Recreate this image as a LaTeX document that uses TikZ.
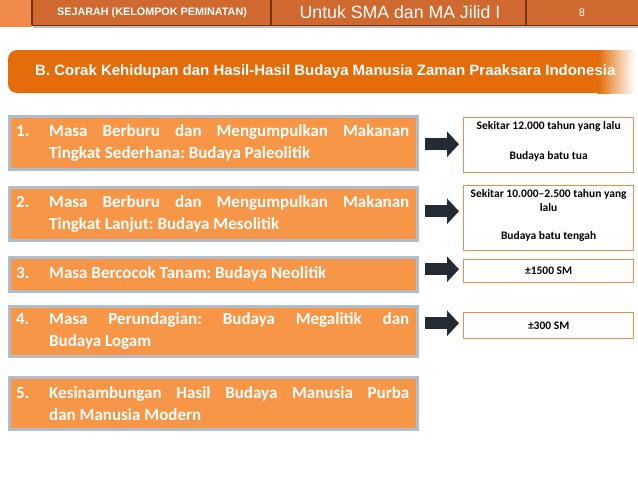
\documentclass[tikz,border=0pt]{standalone}
\usepackage{fontspec}
\newfontfamily\calib{Carlito}
\newfontfamily\arial{Liberation Sans}
\usetikzlibrary{arrows.meta}
\definecolor{hlight}{HTML}{F08A4B}
\definecolor{hdark}{HTML}{D0692F}
\definecolor{hline}{HTML}{6E3410}
\definecolor{tor}{HTML}{E46C0A}
\definecolor{bor}{HTML}{F79646}
\definecolor{bgray}{HTML}{B0BDCB}
\definecolor{arr}{HTML}{262A33}
\definecolor{rbord}{HTML}{EE8B55}
\newcommand{\numl}[1]{\makebox[33pt][l]{#1}}
\newcommand{\fulll}[1]{\makebox[360pt][s]{#1}}
\frenchspacing
\begin{document}
\begin{tikzpicture}[x=1pt,y=-1pt,
  lbox/.style={draw=bgray, line width=2.5pt, fill=bor, minimum width=408pt, anchor=north west, inner sep=0pt},
  ltext/.style={text=white, font=\calib\bfseries\fontsize{17}{22}\selectfont\frenchspacing, anchor=west, inner sep=0pt, align=left},
  rbox/.style={draw=rbord, line width=1.3pt, fill=white, minimum width=170pt, anchor=north west, inner sep=0pt},
  rtext/.style={font=\calib\bfseries\fontsize{11.5}{14}\selectfont, align=center, anchor=north, inner sep=0pt},
  bigarrow/.style={draw=arr, line width=12pt, -{Triangle[width=25pt,length=12pt]}, shorten >=4pt},
  htext/.style={text=white, inner sep=0pt}
]
\useasboundingbox (0,0) rectangle (638,479);
% header
\fill[hlight] (0,0) rectangle (32,27);
\fill[black!25] (33,2) rectangle (638,28);
\fill[hdark] (32,0) rectangle (638,25);
\draw[hline, line width=1pt] (32,25) -- (638,25);
\draw[hline, line width=1.2pt] (32,0) -- (32,25);
\draw[hline, line width=1.5pt] (271,0) -- (271,25);
\draw[hline, line width=1.5pt] (526,0) -- (526,25);
\node[htext, font=\arial\bfseries\fontsize{10.8}{12}\selectfont] (h1) at (152,12.5) {SEJARAH (KELOMPOK PEMINATAN)};
\node[htext, font=\arial\fontsize{17.7}{19}\selectfont] (h2) at (400,12.5) {Untuk SMA dan MA Jilid I};
\node[htext, font=\arial\fontsize{11}{12}\selectfont] (h3) at (582,12.5) {8};
% title bar
\fill[tor, rounded corners=9pt] (8,50) rectangle (612,93);
\shade[left color=tor, right color=white] (598,50) rectangle (634,93);
\draw[black!12, rounded corners=8pt] (610,50) -- (634,50) -- (634,93) -- (610,93);
\node[htext, anchor=west, font=\arial\bfseries\fontsize{15}{18}\selectfont] (title) at (35,71.5) {B. Corak Kehidupan dan Hasil-Hasil Budaya Manusia Zaman Praaksara Indonesia};
% left boxes
\node[lbox, minimum height=53pt] (b1) at (8,115) {};
\node[lbox, minimum height=53pt] (b2) at (8,186) {};
\node[lbox, minimum height=34pt] (b3) at (8,256) {};
\node[lbox, minimum height=50pt] (b4) at (8,305) {};
\node[lbox, minimum height=52pt] (b5) at (8,376) {};
\node[ltext] (t1) at ([xshift=8pt]b1.west) {\numl{1.}\fulll{Masa Berburu dan Mengumpulkan Makanan}\\\numl{}Tingkat Sederhana: Budaya Paleolitik};
\node[ltext] (t2) at ([xshift=8pt]b2.west) {\numl{2.}\fulll{Masa Berburu dan Mengumpulkan Makanan}\\\numl{}Tingkat Lanjut: Budaya Mesolitik};
\node[ltext] (t3) at ([xshift=8pt]b3.west) {\numl{3.}Masa Bercocok Tanam: Budaya Neolitik};
\node[ltext] (t4) at ([xshift=8pt]b4.west) {\numl{4.}\fulll{Masa Perundagian: Budaya Megalitik dan}\\\numl{}Budaya Logam};
\node[ltext] (t5) at ([xshift=8pt]b5.west) {\numl{5.}\fulll{Kesinambungan Hasil Budaya Manusia Purba}\\\numl{}dan Manusia Modern};
% right boxes
\node[rbox, minimum height=55pt] (r1) at (463,117) {};
\node[rbox, minimum height=65pt] (r2) at (463,185) {};
\node[rbox, minimum height=23pt] (r3) at (463,259) {};
\node[rbox, minimum height=26pt] (r4) at (463,312) {};
\node[rtext] (rt1) at ([yshift=-4pt]r1.north) {Sekitar 12.000 tahun yang lalu\\[16pt]Budaya batu tua};
\node[rtext] (rt2) at ([yshift=-4pt]r2.north) {Sekitar 10.000–2.500 tahun yang\\lalu\\[14pt]Budaya batu tengah};
\node[rtext, anchor=center] (rt3) at (r3.center) {±1500 SM};
\node[rtext, anchor=center] (rt4) at (r4.center) {±300 SM};
% arrows
\draw[bigarrow] ([xshift=6pt,yshift=-1.5pt]b1.east) -- ([yshift=-1.5pt]b1.east -| r1.west);
\draw[bigarrow] ([xshift=6pt,yshift=2.5pt]b2.east) -- ([yshift=2.5pt]b2.east -| r2.west);
\draw[bigarrow] ([xshift=6pt,yshift=5pt]b3.east) -- ([yshift=5pt]b3.east -| r3.west);
\draw[bigarrow] ([xshift=6pt,yshift=8pt]b4.east) -- ([yshift=8pt]b4.east -| r4.west);
\end{tikzpicture}
\end{document}
